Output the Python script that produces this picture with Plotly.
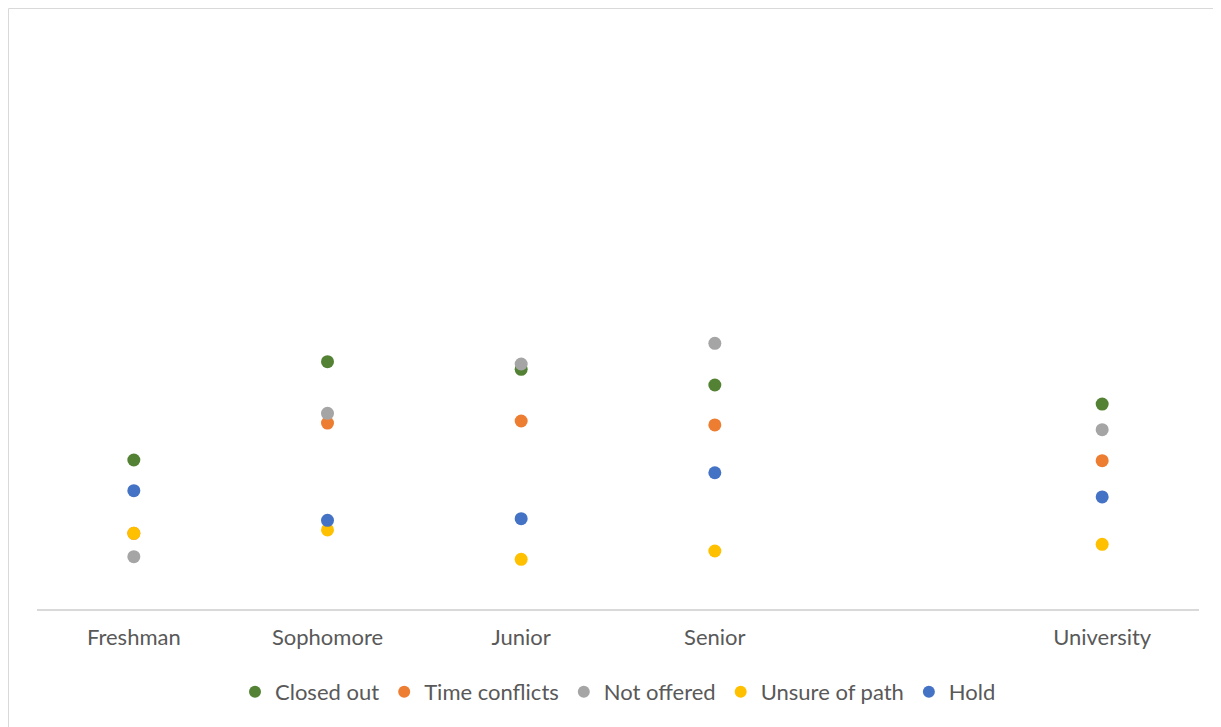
import plotly.graph_objects as go

categories = ["Freshman", "Sophomore", "Junior", "Senior", " ", "University"]
series_names = ["Closed out", "Time conflicts", "Not offered", "Unsure of path", "Hold"]
closed_out = [15.44, 25.63, 24.84, 23.21, None, 21.24]
time_conflicts = [7.84, 19.27, 19.48, 19.07, None, 15.37]
not_offered = [5.42, 20.28, 25.39, 27.53, None, 18.58]
unsure_of_path = [7.84, 8.19, 5.15, 6.01, None, 6.70]
hold = [12.26, 9.19, 9.36, 14.12, None, 11.61]
colors = ["#548235", "#ED7D31", "#A5A5A5", "#FFC000", "#4472C4"]

fig = go.Figure()
for name, vals, col in zip(series_names,
                           [closed_out, time_conflicts, not_offered, unsure_of_path, hold],
                           colors):
    xs = [c for c, v in zip(categories, vals) if v is not None]
    ys = [v for v in vals if v is not None]
    fig.add_trace(go.Scatter(x=xs, y=ys, mode="markers", name=name,
                             marker=dict(color=col, size=13, line=dict(width=0))))

# page has an 8px body margin; figure coordinates are page coordinates minus 8
OFF = 8
W, H = 1221 - OFF, 727 - OFF
L, T = 37 - OFF, 30 - OFF
R = W - (1199 - OFF)
B = H - (609 - OFF)
pw, ph = W - L - R, H - T - B

def px(x):
    return (x - OFF - L) / pw

def py(y):
    return (H - B - (y - OFF)) / ph

fig.add_shape(type="rect", xref="paper", yref="paper",
              x0=px(8.5), x1=px(1240), y0=py(8.5), y1=py(760),
              line=dict(color="#D9D9D9", width=1), fillcolor="rgba(0,0,0,0)", layer="below")

FS = 22
fig.update_layout(
    width=W, height=H,
    margin=dict(l=L, r=R, t=T, b=B),
    paper_bgcolor="white", plot_bgcolor="white",
    font=dict(family="Lato, Calibri, sans-serif", color="#595959", size=FS),
    showlegend=True,
    legend=dict(orientation="h", x=0.5, xanchor="center", y=py(692), yanchor="middle",
                font=dict(size=FS, color="#595959"), itemsizing="constant",
                itemwidth=30, tracegroupgap=0),
    xaxis=dict(type="category", categoryorder="array", categoryarray=categories,
               range=[-0.5, 5.5], showgrid=False, showline=True, linecolor="#D9D9D9",
               linewidth=1.5, ticks="", ticklabelstandoff=8,
               tickfont=dict(size=FS, color="#595959"),
               zeroline=False, fixedrange=True),
    yaxis=dict(range=[0, 60], visible=False, showgrid=False, zeroline=False),
)

fig.write_html("out.html")
